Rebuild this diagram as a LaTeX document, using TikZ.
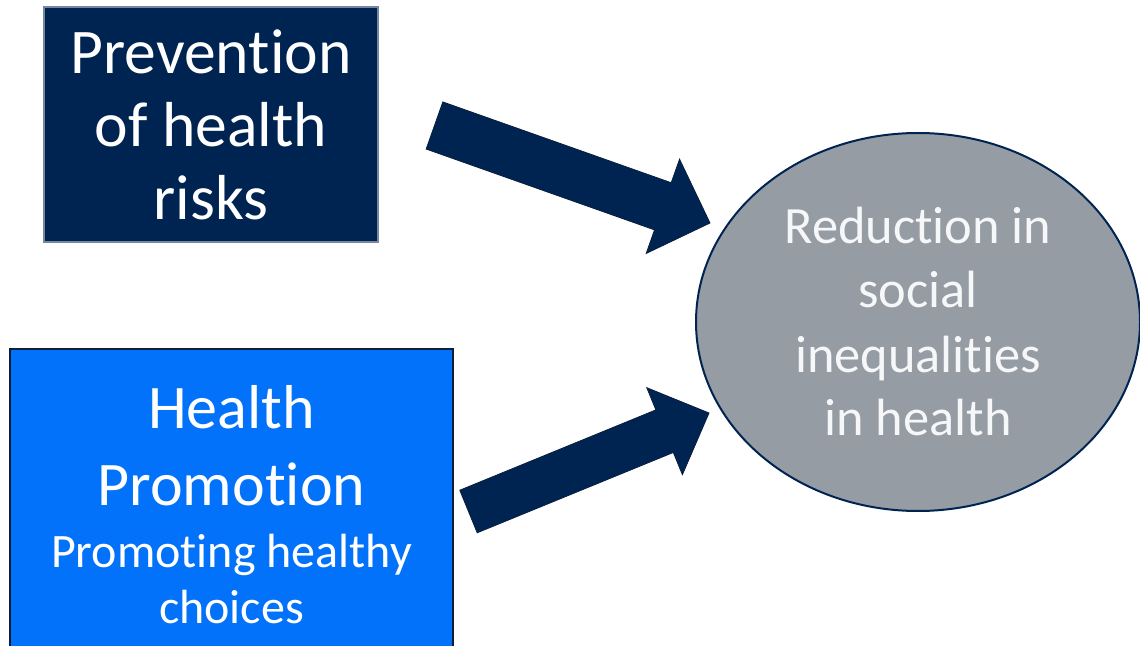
\documentclass[tikz,border=0pt]{standalone}
\usepackage{fontspec}
\setmainfont{Carlito}[Ligatures=NoCommon]
\usetikzlibrary{calc,shapes.geometric}

\definecolor{navy}{RGB}{0,36,82}
\definecolor{navyline}{RGB}{10,30,60}
\definecolor{brightblue}{RGB}{2,114,250}
\definecolor{ovalgray}{RGB}{150,156,163}
\definecolor{paleedge}{RGB}{120,135,160}
\definecolor{offwhite}{RGB}{246,247,249}

% block arrow: tail, tip, half shaft width, half head width, head length
\newcommand\blockarrow[5]{%
  \path ($(#2)!#5!(#1)$) coordinate (hb);
  \filldraw[blockarrowstyle]
    ($(#1)!#3!90:(#2)$) -- ($(hb)!#3!90:(#2)$) -- ($(hb)!#4!90:(#2)$)
    -- (#2)
    -- ($(hb)!#4!-90:(#2)$) -- ($(hb)!#3!-90:(#2)$) -- ($(#1)!#3!-90:(#2)$)
    -- cycle;
}
\newcommand\smallline[1]{{\fontsize{24pt}{28.5pt}\selectfont #1}}

\tikzset{
  boxbase/.style={rectangle, inner sep=0pt, outer sep=0pt, align=center,
    text=white},
  topbox/.style={boxbase, fill=navy, draw=paleedge, line width=0.6pt,
    minimum width=167pt, minimum height=117.5pt,
    font=\fontsize{31.8pt}{36.5pt}\selectfont},
  lowbox/.style={boxbase, fill=brightblue, draw=navyline, line width=0.8pt,
    minimum width=221.5pt, minimum height=155.5pt,
    font=\fontsize{31pt}{38.5pt}\selectfont},
  oval/.style={ellipse, inner sep=0pt, outer sep=0pt, fill=ovalgray,
    draw=navy, line width=1pt, minimum width=222pt, minimum height=189pt,
    align=center, text=offwhite, font=\fontsize{26.2pt}{32pt}\selectfont},
  blockarrowstyle/.style={fill=navy, draw=navyline, line width=0.4pt,
    line join=miter},
}

\begin{document}
\begin{tikzpicture}[x=0.5pt,y=-0.5pt]
  \useasboundingbox (0,0) rectangle (1140,646);
  \fill[white] (0,0) rectangle (1140,646);

  \node[topbox] (prev) at (211,124.5) {Prevention\\of health\\risks};

  \node[lowbox] (promo) at (231.5,504.5)
    {Health\\Promotion\\[-7.5pt]
     \smallline{Promoting healthy}\\[-10.5pt]\smallline{choices}};

  \node[oval] (goal) at (918,322)
    {Reduction in\\social\\inequalities\\in health};

  \coordinate (t1) at (434.5,125.5);
  \coordinate (p1) at (710,223);
  \coordinate (t2) at (468.5,511.5);
  \coordinate (p2) at (709,413);

  \blockarrow{t1}{p1}{12.5pt}{25pt}{25pt}
  \blockarrow{t2}{p2}{11.5pt}{23.5pt}{24pt}
\end{tikzpicture}
\end{document}
